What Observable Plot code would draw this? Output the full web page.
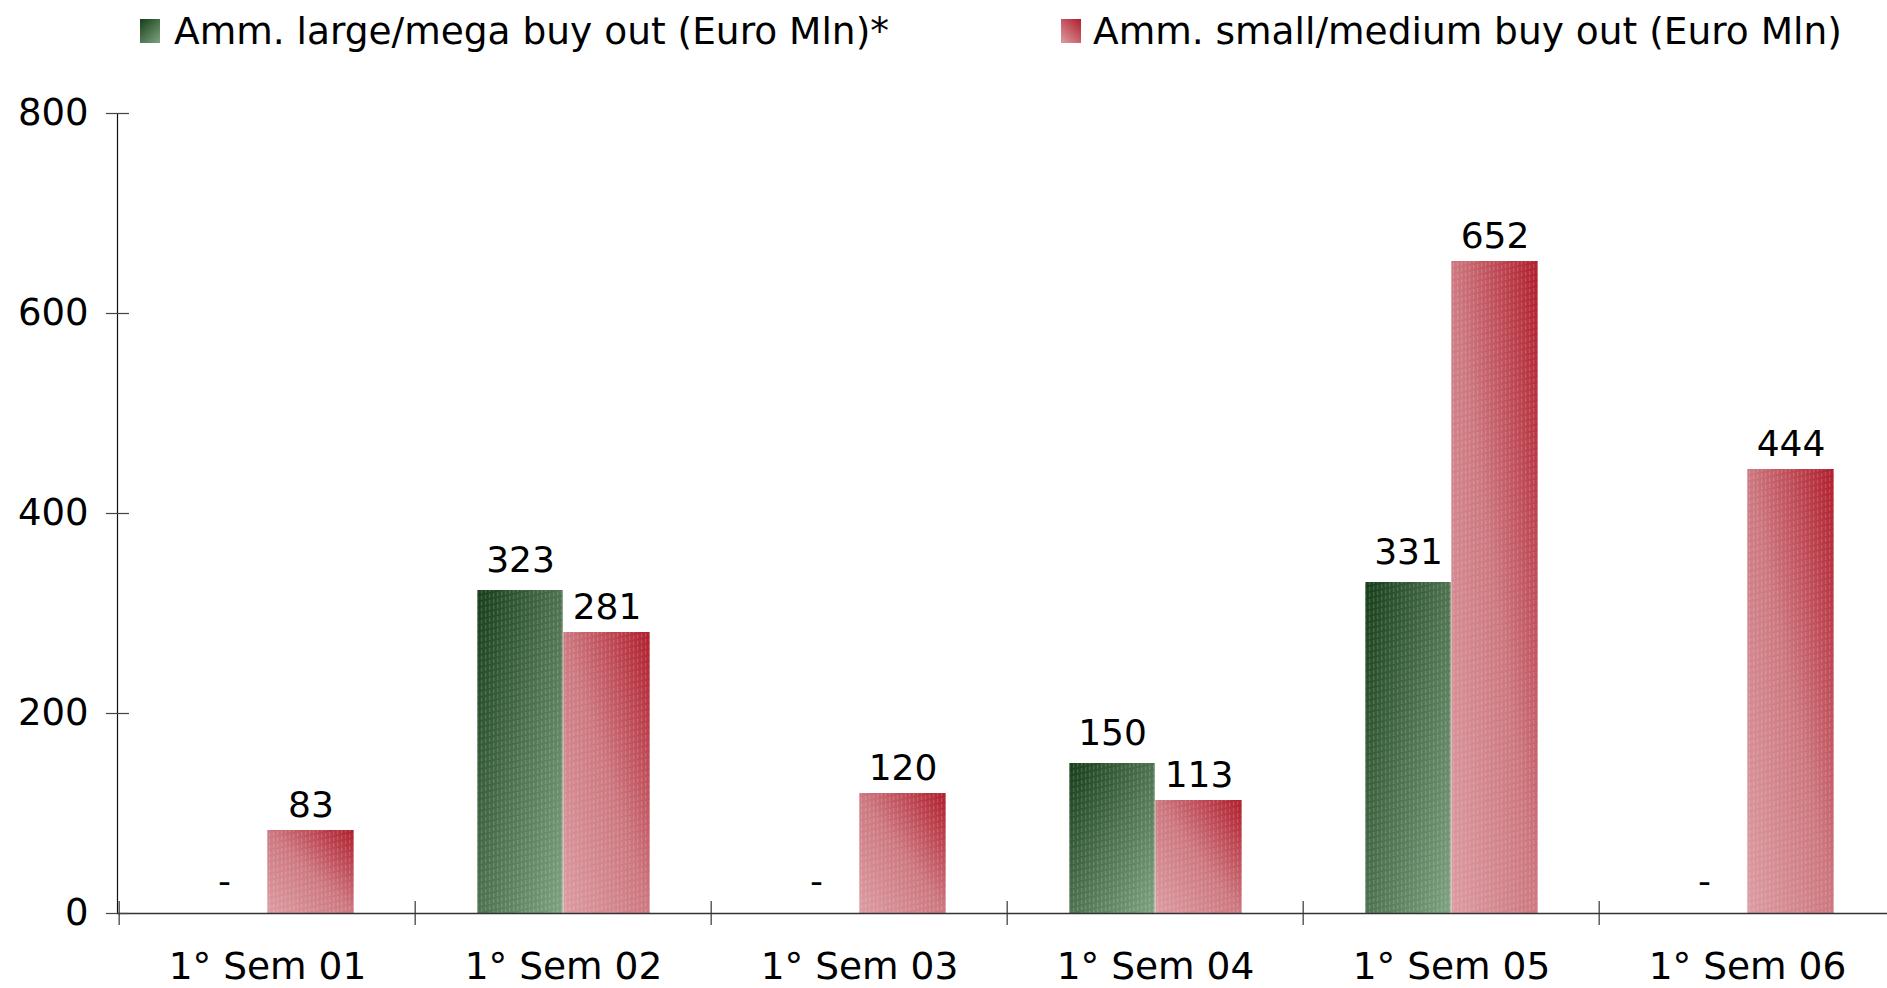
<!DOCTYPE html>
<html><head><meta charset="utf-8">
<script src="https://cdn.jsdelivr.net/npm/d3@7"></script>
<script src="https://cdn.jsdelivr.net/npm/@observablehq/plot@0.6"></script>
<style>
html,body{margin:0;padding:0;background:#fff;overflow:hidden;}
body{width:1887px;height:988px;position:relative;font-family:"DejaVu Sans",sans-serif;}
#legend{position:relative;height:62px;width:1887px;}
.sw{position:absolute;top:19px;width:20px;height:24px;}
.lb{position:absolute;top:13px;font-size:37.5px;line-height:37px;white-space:nowrap;color:#000;}
#chart{width:1887px;height:926px;overflow:hidden;}
#chart svg{max-width:none !important;display:block;}
</style></head><body>
<svg width="0" height="0" style="position:absolute">
  <defs>
    <linearGradient id="gGreen" x1="0" y1="0" x2="1" y2="1">
      <stop offset="0" stop-color="#163e19"/>
      <stop offset="0.5" stop-color="#4e724f"/>
      <stop offset="1" stop-color="#7fa380"/>
    </linearGradient>
    <linearGradient id="gRed" x1="0" y1="1" x2="1" y2="0">
      <stop offset="0" stop-color="#dc9ca2"/>
      <stop offset="0.5" stop-color="#cd7880"/>
      <stop offset="1" stop-color="#b01e2c"/>
    </linearGradient>
    <pattern id="hatch" width="4" height="6" patternUnits="userSpaceOnUse" patternTransform="skewY(-12)">
      <rect x="1" y="0" width="1.2" height="4" fill="#ffffff" opacity="0.22"/>
    </pattern>
  </defs>
</svg>
<div id="legend"></div>
<div id="chart"></div>
<script>
// ---- data ----
const categories = ["1° Sem 01", "1° Sem 02", "1° Sem 03", "1° Sem 04", "1° Sem 05", "1° Sem 06"];
const seriesNames = ["Amm. large/mega buy out (Euro Mln)*", "Amm. small/medium buy out (Euro Mln)"];
const largeValues = [null, 323, null, 150, 331, null];
const smallValues = [83, 281, 120, 113, 652, 444];
const yTicks = [0, 200, 400, 600, 800];
const missingLabel = "-";

const largeRows = categories.map((c, i) => ({category: c, series: seriesNames[0], value: largeValues[i]}));
const smallRows = categories.map((c, i) => ({category: c, series: seriesNames[1], value: smallValues[i]}));
const largePresent = largeRows.filter(d => d.value != null);
const largeMissing = largeRows.filter(d => d.value == null);

// ---- legend ----
const legend = document.getElementById("legend");
const legendItems = [
  {name: seriesNames[0], fill: "linear-gradient(135deg,#163e19,#7fa380)", sx: 140, tx: 174},
  {name: seriesNames[1], fill: "linear-gradient(45deg,#dc9ca2,#b01e2c)", sx: 1061, tx: 1093}
];
for (const it of legendItems) {
  const sw = document.createElement("div");
  sw.className = "sw"; sw.style.left = it.sx + "px"; sw.style.background = it.fill;
  const lb = document.createElement("div");
  lb.className = "lb"; lb.style.left = it.tx + "px"; lb.textContent = it.name;
  legend.appendChild(sw); legend.appendChild(lb);
}

// ---- chart ----
const W = 1897, H = 926, ML = 117, MR = 0, MT = 51, MB = 75;
const half = (W - ML - MR) / categories.length / 2;
const barG = 86, barR = 87;

const chart = Plot.plot({
  width: W, height: H,
  marginLeft: ML, marginRight: MR, marginTop: MT, marginBottom: MB,
  style: {fontFamily: "DejaVu Sans", fontSize: "36px", color: "#000", background: "transparent", overflow: "visible", maxWidth: "none"},
  x: {domain: categories, padding: 0, label: null},
  y: {domain: [0, 800], label: null},
  marks: [
    Plot.barY(largePresent, {x: "category", y: "value", fill: "url(#gGreen)", insetLeft: half - barG, insetRight: half}),
    Plot.barY(largePresent, {x: "category", y: "value", fill: "url(#hatch)", insetLeft: half - barG, insetRight: half}),
    Plot.barY(smallRows, {x: "category", y: "value", fill: "url(#gRed)", insetLeft: half, insetRight: half - barR}),
    Plot.barY(smallRows, {x: "category", y: "value", fill: "url(#hatch)", insetLeft: half, insetRight: half - barR}),
    Plot.text(largePresent, {x: "category", y: "value", text: d => String(d.value), dx: -barG / 2, dy: -19, lineAnchor: "bottom", fontSize: 36, fill: "#000"}),
    Plot.text(smallRows, {x: "category", y: "value", text: d => String(d.value), dx: barR / 2, dy: -14, lineAnchor: "bottom", fontSize: 36, fill: "#000"}),
    Plot.text(largeMissing, {x: "category", y: () => 0, text: () => missingLabel, dx: -barG / 2, dy: -21, lineAnchor: "bottom", fontSize: 36, fill: "#000"}),
    Plot.frame({anchor: "left", stroke: "#111", strokeWidth: 1.2}),
    Plot.ruleY([0], {stroke: "#333", strokeWidth: 1.6}),
    Plot.axisY({ticks: yTicks, tickSize: 23, dx: 12, stroke: "#444", strokeWidth: 1.2, fill: "none", label: null}),
    Plot.axisY({ticks: yTicks, tickSize: 0, tickPadding: 29, fontSize: 37, fill: "#000", tickFormat: d => String(d), label: null}),
    Plot.axisX({tickSize: 0, tickPadding: 39, fontSize: 37.5, fill: "#000", label: null}),
    Plot.axisX({tickSize: 24, dx: -half, dy: -12, stroke: "#333", strokeWidth: 1.2, fill: "none", label: null})
  ]
});
document.getElementById("chart").appendChild(chart);
</script>
</body></html>
